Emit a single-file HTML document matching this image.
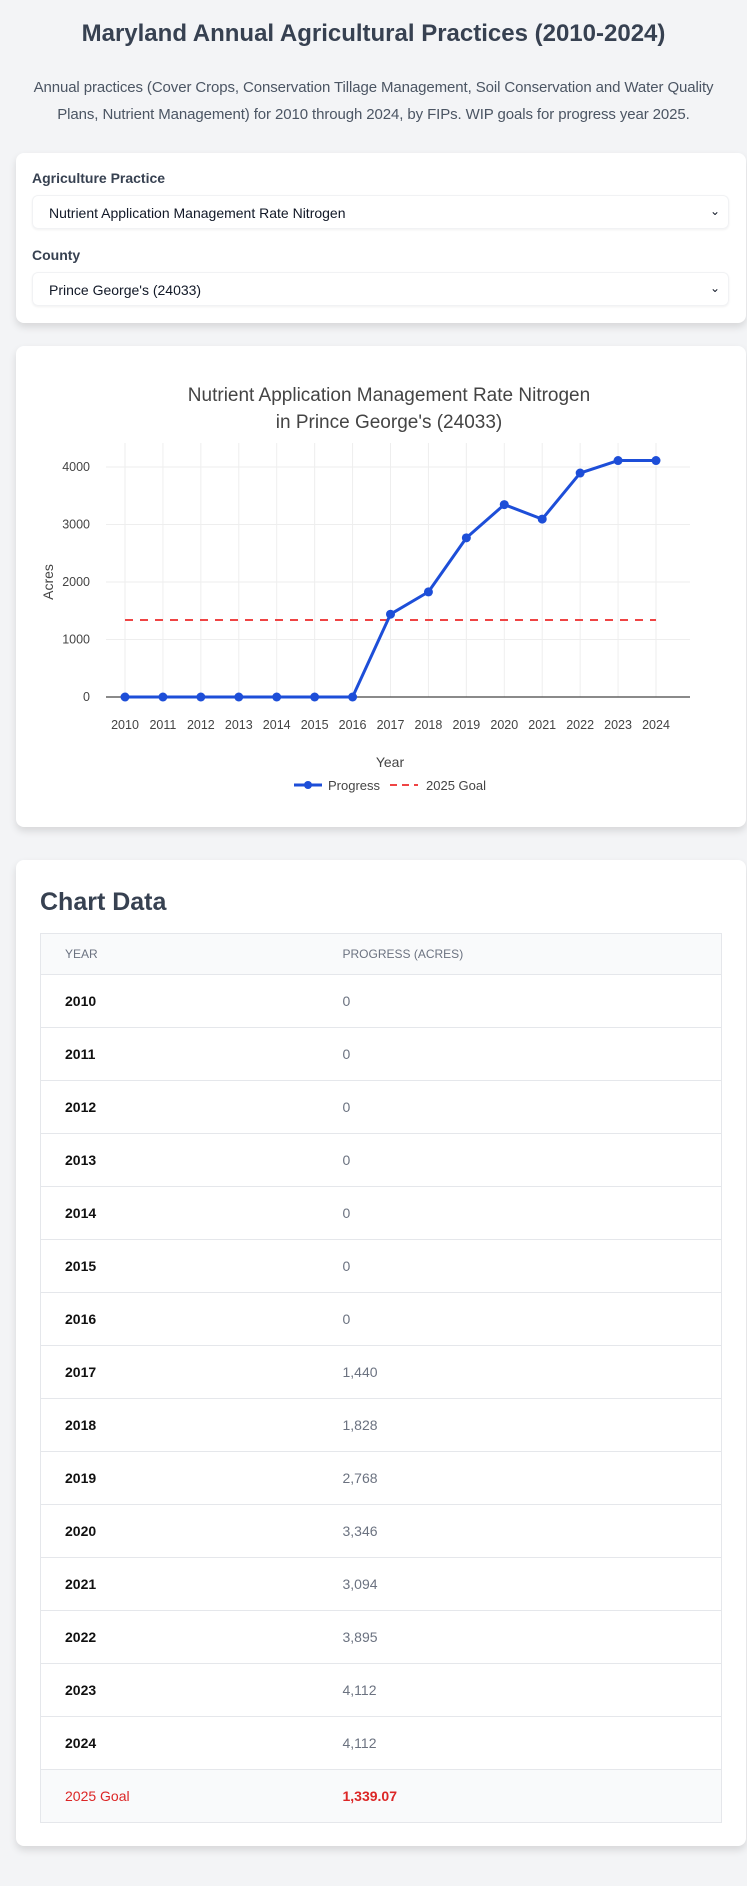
<!DOCTYPE html>
<html><head><meta charset="utf-8">
<style>
*{box-sizing:border-box;margin:0;padding:0}
body{width:747px;height:1886px;background:#f3f4f6;font-family:"Liberation Sans",sans-serif;color:#374151;position:relative;overflow:hidden}
.abs{position:absolute}
h1{position:absolute;left:0;width:747px;top:20px;text-align:center;font-size:24px;font-weight:bold;color:#374151}
.sub{position:absolute;left:0;width:747px;top:74px;text-align:center;font-size:15px;line-height:27px;color:#4b5563;letter-spacing:-0.1px}
.card{position:absolute;left:16px;width:730px;background:#fff;border-radius:8px;box-shadow:0 4px 8px rgba(0,0,0,0.12)}
.lbl{position:absolute;left:16px;font-size:14px;font-weight:bold;color:#374151}
.sel{position:absolute;left:16px;width:697px;height:34px;border-radius:6px;box-shadow:0 1px 2px rgba(0,0,0,0.06);border:1px solid #f1f2f4;font-size:14px;color:#111827;padding:9px 0 0 16px}
.sel .chev{position:absolute;right:8px;top:8px;font-size:12px}
table{position:absolute;left:24px;top:73px;width:682px;border-collapse:collapse;font-size:14px;table-layout:fixed}
th{background:#f9fafb;height:41px;text-align:left;font-weight:normal;color:#6b7280;font-size:12px;padding-left:24px;border-top:1px solid #e5e7eb;border-bottom:1px solid #e5e7eb}
td{height:53px;padding-left:24px;border-top:1px solid #e5e7eb;border-bottom:1px solid #e5e7eb}
tr td:first-child,tr th:first-child{border-left:1px solid #e5e7eb;font-weight:bold;color:#111}
tr td:last-child,tr th:last-child{border-right:1px solid #e5e7eb;color:#6b7280}
th:first-child{font-weight:normal!important;color:#6b7280!important}
tr.goal td{background:#f9fafb;color:#dc2626!important}
tr.goal td:first-child{font-weight:normal}
tr.goal td:last-child{font-weight:bold}
</style></head><body>
<h1>Maryland Annual Agricultural Practices (2010-2024)</h1>
<div class="sub">Annual practices (Cover Crops, Conservation Tillage Management, Soil Conservation and Water Quality<br>Plans, Nutrient Management) for 2010 through 2024, by FIPs. WIP goals for progress year 2025.</div>

<div class="card" style="top:153px;height:170px">
 <div class="lbl" style="top:17px">Agriculture Practice</div>
 <div class="sel" style="top:42px">Nutrient Application Management Rate Nitrogen<span class="chev">&#8964;</span></div>
 <div class="lbl" style="top:94px">County</div>
 <div class="sel" style="top:119px">Prince George's (24033)<span class="chev">&#8964;</span></div>
</div>

<div class="card" style="top:346px;height:481px"></div>
<svg class="abs" style="left:0;top:0" width="747" height="860" id="chart" font-family="Liberation Sans, DejaVu Sans, sans-serif">
 <text x="389" y="401" text-anchor="middle" font-size="19" fill="#444">Nutrient Application Management Rate Nitrogen</text>
 <text x="389" y="428" text-anchor="middle" font-size="19" fill="#444">in Prince George's (24033)</text>
 <text transform="translate(53,582) rotate(-90)" text-anchor="middle" font-size="14" fill="#444">Acres</text>
 <text x="390" y="767" text-anchor="middle" font-size="14" fill="#444">Year</text>
 <g>
  <line x1="294" y1="785" x2="322" y2="785" stroke="#1d4ed8" stroke-width="3"/>
  <circle cx="308" cy="785" r="4" fill="#1d4ed8"/>
  <text x="328" y="790" font-size="13" fill="#444">Progress</text>
  <line x1="390" y1="785" x2="418" y2="785" stroke="#ef4444" stroke-width="2" stroke-dasharray="7,5"/>
  <text x="426" y="790" font-size="13" fill="#444">2025 Goal</text>
 </g>
</svg>

<div class="card" style="top:860px;height:986px">
 <div class="abs" style="left:24px;top:28px;font-size:25px;font-weight:bold;color:#374151">Chart Data</div>
 <table>
  <colgroup><col style="width:278px"><col></colgroup>
  <thead><tr><th>YEAR</th><th>PROGRESS (ACRES)</th></tr></thead>
  <tbody id="tb"></tbody>
 </table>
</div>

<script>
const years=[2010,2011,2012,2013,2014,2015,2016,2017,2018,2019,2020,2021,2022,2023,2024];
const progress=[0,0,0,0,0,0,0,1440,1828,2768,3346,3094,3895,4112,4112];
const goal=[1339.07];
const yTicks=[0,1000,2000,3000,4000];

const NS='http://www.w3.org/2000/svg';
const svg=document.getElementById('chart');
const X0=125,X1=656,PL=106,PR=690,PT=443;
const xs=i=>X0+(X1-X0)*i/(years.length-1);
const ys=v=>697-v*(230/4000);
function fmt(v,dec){let s=dec?v.toFixed(dec):String(Math.round(v));let p=s.split('.');p[0]=p[0].replace(/\B(?=(\d{3})+(?!\d))/g,',');return p.join('.');}
function mk(t,a){const e=document.createElementNS(NS,t);for(const k in a)e.setAttribute(k,a[k]);svg.appendChild(e);return e;}
years.forEach((y,i)=>{
 const g=mk('line',{x1:xs(i),x2:xs(i),y1:PT,y2:697,stroke:'#eee','stroke-width':1});
 
 
 const t=mk('text',{x:xs(i),y:729,'text-anchor':'middle','font-size':12.5,fill:'#444'});t.textContent=y;
 
 
});
yTicks.forEach(v=>{
 if(v>0){const g=mk('line',{x1:PL,x2:PR,y1:ys(v),y2:ys(v),stroke:'#eee','stroke-width':1});
 
 }
 const t=mk('text',{x:90,y:ys(v)+4,'text-anchor':'end','font-size':12.5,fill:'#444'});t.textContent=v;
 
 
});
const z=mk('line',{x1:PL,x2:PR,y1:ys(0),y2:ys(0),stroke:'#444','stroke-width':1.3});


const gl=mk('line',{x1:xs(0),x2:xs(years.length-1),y1:ys(goal[0]),y2:ys(goal[0]),stroke:'#ef4444','stroke-width':2,'stroke-dasharray':'8,7'});


const pl=mk('polyline',{points:progress.map((v,i)=>xs(i)+','+ys(v)).join(' '),fill:'none',stroke:'#1d4ed8','stroke-width':3,'stroke-linejoin':'round'});


progress.forEach((v,i)=>{
 const c=mk('circle',{cx:xs(i),cy:ys(v),r:4.5,fill:'#1d4ed8'});
 
 
});

const tb=document.getElementById('tb');
years.forEach((y,i)=>{
 const tr=document.createElement('tr');
 
 
 tr.innerHTML='<td>'+y+'</td><td>'+fmt(progress[i])+'</td>';
 tb.appendChild(tr);
});
const gr=document.createElement('tr');gr.className='goal';


gr.innerHTML='<td>2025 Goal</td><td>'+fmt(goal[0],2)+'</td>';
tb.appendChild(gr);
</script>
</body></html>
